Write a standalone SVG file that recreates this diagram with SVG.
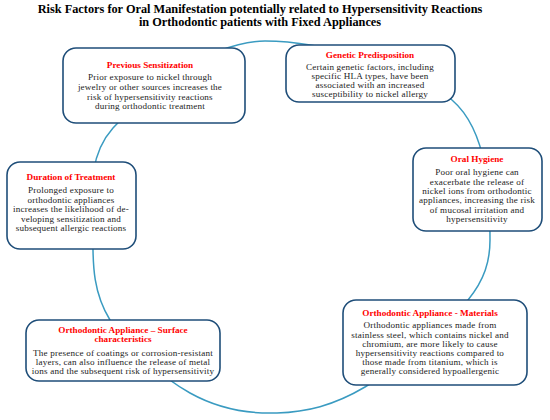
<svg xmlns="http://www.w3.org/2000/svg" width="550" height="420" viewBox="0 0 550 420">
<style>
.title{font-family:"Liberation Serif",serif;font-weight:bold;font-size:12.3px;fill:#000;text-anchor:middle}
.box{fill:#fff;stroke:#1f4e79;stroke-width:1.6}
.h{font-family:"Liberation Serif",serif;font-weight:bold;font-size:9.2px;fill:#ff0000;text-anchor:middle}
.b{font-family:"Liberation Serif",serif;font-size:9.1px;letter-spacing:0.2px;fill:#222;text-anchor:middle}
.ring{fill:none;stroke:#3a9bc1;stroke-width:1.5}
</style>
<rect width="550" height="420" fill="#fff"/>
<text class="title" x="260" y="12.5">Risk Factors for Oral Manifestation potentially related to Hypersensitivity Reactions</text>
<text class="title" x="260" y="26">in Orthodontic patients with Fixed Appliances</text>
<g id="connectors">
<path class="ring" d="M265,41 C321,41 414.5,67.7 452,100 C489.5,132.3 490,200 490,240 C490,261 484.6,279.8 468,300 C447.2,325.3 396.8,368.2 365,387 C333.2,405.8 306.2,412 277,413 C247.8,414 217.8,408.5 190,393 C162.2,377.5 126.2,346.3 110,320 C93.8,293.7 92.5,267 93,235 C93.5,203 84.3,160.3 113,128 C141.7,95.7 209,41 265,41 Z"/>
</g>
<g id="previous-sensitization">
<rect class="box" x="63" y="48" width="182" height="75" rx="13"/>
<text class="h" x="150" y="68">Previous Sensitization</text>
<text class="b" x="150" y="80">Prior exposure to nickel through</text>
<text class="b" x="150" y="90">jewelry or other sources increases the</text>
<text class="b" x="150" y="99.5">risk of hypersensitivity reactions</text>
<text class="b" x="150" y="109">during orthodontic treatment</text>
</g>
<g id="genetic-predisposition">
<rect class="box" x="286" y="45" width="169" height="57" rx="13"/>
<text class="h" x="370" y="58">Genetic Predisposition</text>
<text class="b" x="370" y="70">Certain genetic factors, including</text>
<text class="b" x="370" y="79">specific HLA types, have been</text>
<text class="b" x="370" y="88">associated with an increased</text>
<text class="b" x="370" y="96.5">susceptibility to nickel allergy</text>
</g>
<g id="oral-hygiene">
<rect class="box" x="413" y="148" width="129" height="83" rx="13"/>
<text class="h" x="477" y="162">Oral Hygiene</text>
<text class="b" x="477" y="175">Poor oral hygiene can</text>
<text class="b" x="477" y="184.5">exacerbate the release of</text>
<text class="b" x="477" y="194">nickel ions from orthodontic</text>
<text class="b" x="477" y="203">appliances, increasing the risk</text>
<text class="b" x="477" y="212.5">of mucosal irritation and</text>
<text class="b" x="477" y="221.5">hypersensitivity</text>
</g>
<g id="duration-of-treatment">
<rect class="box" x="7" y="162" width="129" height="87" rx="13"/>
<text class="h" x="71" y="180">Duration of Treatment</text>
<text class="b" x="71" y="193">Prolonged exposure to</text>
<text class="b" x="71" y="202.5">orthodontic appliances</text>
<text class="b" x="71" y="212">increases the likelihood  of de-</text>
<text class="b" x="71" y="221.5">veloping  sensitization and</text>
<text class="b" x="71" y="231">subsequent allergic reactions</text>
</g>
<g id="appliance-materials">
<rect class="box" x="343" y="300" width="184" height="85" rx="13"/>
<text class="h" x="430" y="316">Orthodontic Appliance - Materials</text>
<text class="b" x="430" y="328">Orthodontic appliances made from</text>
<text class="b" x="430" y="337.5">stainless steel, which contains nickel and</text>
<text class="b" x="430" y="347">chromium, are more likely  to cause</text>
<text class="b" x="430" y="356">hypersensitivity reactions compared to</text>
<text class="b" x="430" y="365">those made from titanium, which is</text>
<text class="b" x="430" y="374">generally  considered hypoallergenic</text>
</g>
<g id="appliance-surface">
<rect class="box" x="26" y="320" width="194" height="61" rx="13"/>
<text class="h" x="123" y="333">Orthodontic Appliance – Surface</text>
<text class="h" x="123" y="342">characteristics</text>
<text class="b" x="123" y="356">The presence of coatings or corrosion-resistant</text>
<text class="b" x="123" y="365">layers, can also influence the release of metal</text>
<text class="b" x="123" y="374">ions and the subsequent risk of hypersensitivity</text>
</g>
</svg>
